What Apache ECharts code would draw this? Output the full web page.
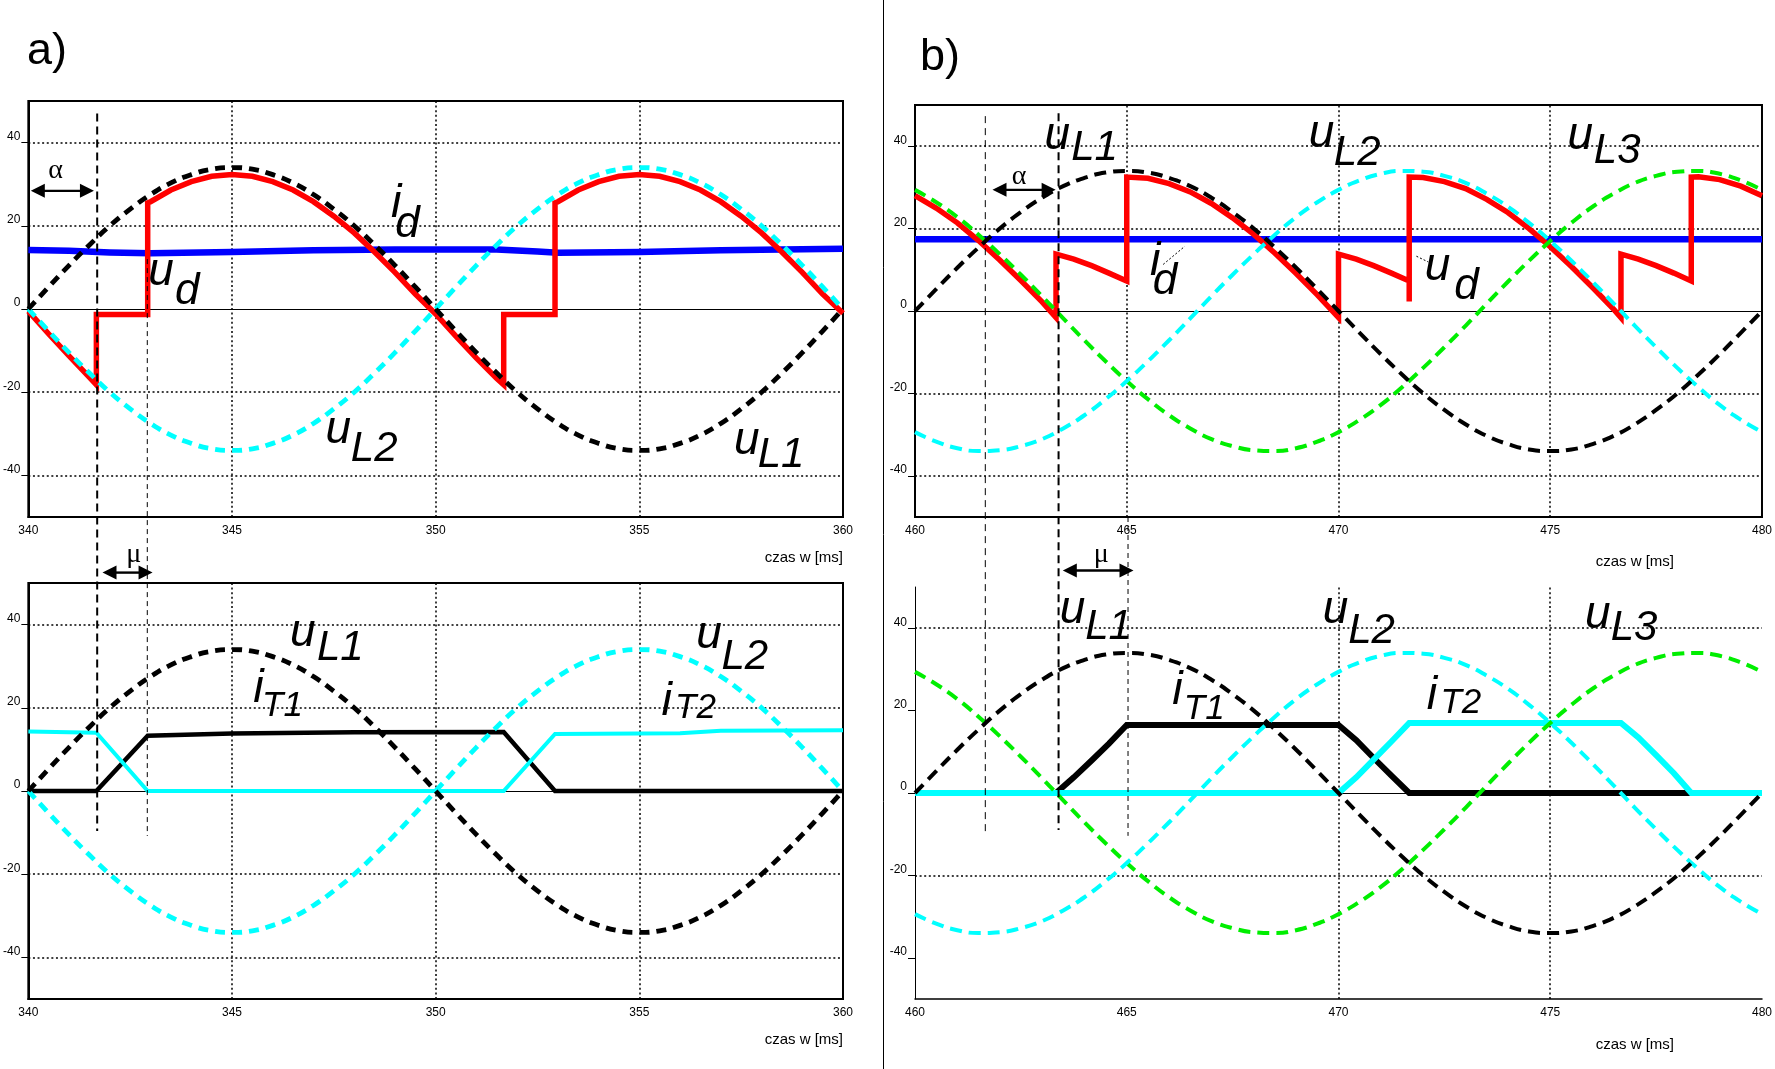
<!DOCTYPE html>
<html><head><meta charset="utf-8">
<script src="https://cdn.jsdelivr.net/npm/echarts@6.0.0/dist/echarts.min.js"></script>
<style>html,body{margin:0;padding:0;background:#fff}#c{width:1775px;height:1069px}</style>
</head><body><div id="c"></div>
<script>
// ---------- data ----------
const tA = [340,340.5,341,341.5,342,342.5,343,343.5,344,344.5,345,345.5,346,346.5,347,347.5,348,348.5,349,349.5,350,350.5,351,351.5,352,352.5,353,353.5,354,354.5,355,355.5,356,356.5,357,357.5,358,358.5,359,359.5,360];
const tB = [460,460.5,461,461.5,462,462.5,463,463.5,464,464.5,465,465.5,466,466.5,467,467.5,468,468.5,469,469.5,470,470.5,471,471.5,472,472.5,473,473.5,474,474.5,475,475.5,476,476.5,477,477.5,478,478.5,479,479.5,480];
const uL1a = [0,5.3,10.5,15.4,20.0,24.0,27.5,30.3,32.3,33.6,34.0,33.6,32.3,30.3,27.5,24.0,20.0,15.4,10.5,5.3,0,-5.3,-10.5,-15.4,-20.0,-24.0,-27.5,-30.3,-32.3,-33.6,-34.0,-33.6,-32.3,-30.3,-27.5,-24.0,-20.0,-15.4,-10.5,-5.3,0];
const uL2a = [0,-5.3,-10.5,-15.4,-20.0,-24.0,-27.5,-30.3,-32.3,-33.6,-34.0,-33.6,-32.3,-30.3,-27.5,-24.0,-20.0,-15.4,-10.5,-5.3,0,5.3,10.5,15.4,20.0,24.0,27.5,30.3,32.3,33.6,34.0,33.6,32.3,30.3,27.5,24.0,20.0,15.4,10.5,5.3,0];
const uL1b = [0,5.3,10.5,15.4,20.0,24.0,27.5,30.3,32.3,33.6,34.0,33.6,32.3,30.3,27.5,24.0,20.0,15.4,10.5,5.3,0,-5.3,-10.5,-15.4,-20.0,-24.0,-27.5,-30.3,-32.3,-33.6,-34.0,-33.6,-32.3,-30.3,-27.5,-24.0,-20.0,-15.4,-10.5,-5.3,0];
const uL2b = [-29.4,-31.7,-33.3,-34.0,-33.8,-32.8,-31.1,-28.5,-25.3,-21.4,-17.0,-12.2,-7.1,-1.8,3.6,8.8,13.8,18.5,22.8,26.4,29.4,31.7,33.3,34.0,33.8,32.8,31.1,28.5,25.3,21.4,17.0,12.2,7.1,1.8,-3.6,-8.8,-13.8,-18.5,-22.8,-26.4,-29.4];
const uL3b = [29.4,26.4,22.8,18.5,13.8,8.8,3.6,-1.8,-7.1,-12.2,-17.0,-21.4,-25.3,-28.5,-31.1,-32.8,-33.8,-34.0,-33.3,-31.7,-29.4,-26.4,-22.8,-18.5,-13.8,-8.8,-3.6,1.8,7.1,12.2,17.0,21.4,25.3,28.5,31.1,32.8,33.8,34.0,33.3,31.7,29.4];

const udA = [[340,-0.5],[340.5,-6.0],[341,-11.3],[341.5,-16.4],[341.67,-18.2],[341.67,-1.3],[342.93,-1.3],
  [342.93,25.5],[343,25.8],[343.5,28.6],[344,30.6],[344.5,31.9],[345,32.3],[345.5,31.9],[346,30.6],[346.5,28.6],[347,25.8],[347.5,22.3],[348,18.3],[348.5,13.7],[349,8.8],[349.5,3.6],[350,-1.2],[350.5,-6.6],[351,-11.8],[351.5,-16.7],[351.67,-18.2],
  [351.67,-1.3],[352.93,-1.3],
  [352.93,25.5],[353,25.8],[353.5,28.6],[354,30.6],[354.5,31.9],[355,32.3],[355.5,31.9],[356,30.6],[356.5,28.6],[357,25.8],[357.5,22.3],[358,18.3],[358.5,13.7],[359,8.8],[359.5,3.6],[360,-1.0]];
const idA = [[340,14.2],[341,14.0],[342,13.6],[343,13.4],[345,13.7],[347,14.1],[349,14.3],[351.5,14.3],[352.5,13.8],[353,13.5],[355,13.7],[357,14.1],[360,14.5]];
const iT1a = [[340,0],[341.67,0],[342.93,13.3],[345,13.8],[348,14.1],[351.67,14.2],[352.93,0],[360,0]];
const iT2a = [[340,14.3],[341.67,14.0],[342.93,0],[351.67,0],[352.93,13.7],[356,13.9],[357,14.5],[360,14.6]];

const udB = [[460,28.0],[460.5,25.0],[461,21.4],[461.5,17.1],[462,12.4],[462.5,7.4],[463,2.2],[463.33,-1.6],
  [463.33,13.8],[463.75,12.6],[464.17,11.0],[464.58,9.2],[465,7.3],
  [465,32.5],[465.5,32.2],[466,30.9],[466.5,28.9],[467,26.1],[467.5,22.6],[468,18.6],[468.5,14.0],[469,9.1],[469.5,3.9],[470,-1.6],
  [470,13.8],[470.42,12.6],[470.83,11.0],[471.25,9.2],[471.67,7.3],[471.67,2.3],
  [471.67,32.5],[472,32.4],[472.5,31.4],[473,29.7],[473.5,27.1],[474,23.9],[474.5,20.0],[475,15.6],[475.5,10.8],[476,5.7],[476.5,0.4],[476.67,-1.6],
  [476.67,13.8],[477.08,12.6],[477.5,11.0],[477.92,9.2],[478.33,7.3],
  [478.33,32.5],[478.5,32.6],[479,31.9],[479.5,30.3],[480,28.0]];
const idB = [[460,17.4],[480,17.4]];
const iT1b = [[460,0],[463.33,0],[463.75,3.8],[464.17,7.9],[464.58,12.0],[465,16.5],[470,16.5],[470.42,12.8],[470.83,8.5],[471.25,4.2],[471.67,0],[478.33,0]];
const iT2b = [[460,0],[470,0],[470.42,3.8],[470.83,8.1],[471.25,12.5],[471.67,17.0],[476.67,17.0],[477.08,13.5],[477.5,9.2],[477.92,4.8],[478.33,0],[480,0]];

const yTicks = [-40,-20,0,20,40];
const xTicksA = [340,345,350,355,360];
const xTicksB = [460,465,470,475,480];
const xTitle = 'czas w [ms]';

// annotations: [grid, t, v, text, size, kind]
const notes = [
 [0,343.26,5.05,'u',46,'i'],[0,343.90,0.48,'d',44,'i'],
 [0,349.03,21.4,'i',47,'i'],[0,349.31,16.6,'d',44,'i'],
 [0,347.61,-32.9,'u',46,'i'],[0,348.49,-37.3,'L2',42,'i'],
 [0,357.64,-35.6,'u',46,'i'],[0,358.48,-38.7,'L1',42,'i'],
 [0,340.67,33.3,'α',28,'g'],
 [1,346.74,34.0,'u',46,'i'],[1,347.66,30.7,'L1',42,'i'],
 [1,345.65,20.6,'i',47,'i'],[1,346.24,17.4,'T1',35,'i'],
 [1,356.71,33.6,'u',46,'i'],[1,357.59,28.7,'L2',42,'i'],
 [1,355.67,17.4,'i',47,'i'],[1,356.38,16.9,'T2',35,'i'],
 [1,342.59,56.7,'μ',28,'g'],
 [2,463.36,38.6,'u',46,'i'],[2,464.24,35.9,'L1',42,'i'],
 [2,469.60,39.1,'u',46,'i'],[2,470.44,34.7,'L2',42,'i'],
 [2,475.71,38.6,'u',46,'i'],[2,476.58,35.2,'L3',42,'i'],
 [2,465.67,7.9,'i',47,'i'],[2,465.90,3.5,'d',44,'i'],
 [2,472.34,6.7,'u',46,'i'],[2,473.02,2.3,'d',44,'i'],
 [2,462.46,32.5,'α',28,'g'],
 [3,463.72,40.4,'u',46,'i'],[3,464.57,36.7,'L1',42,'i'],
 [3,469.93,40.5,'u',46,'i'],[3,470.78,35.6,'L2',42,'i'],
 [3,476.12,39.3,'u',46,'i'],[3,476.98,36.4,'L3',42,'i'],
 [3,466.20,20.9,'i',47,'i'],[3,466.83,17.3,'T1',35,'i'],
 [3,472.21,19.7,'i',47,'i'],[3,472.89,18.8,'T2',35,'i'],
 [3,464.40,57.8,'μ',28,'g']
];
// dashed marker lines spanning two panels: [gridTop, gridBottom, t, vTop, vBottom, width, dash]
const spans = [
 [0,1,341.69,47.0,-9.6,2,[8,5]],
 [0,1,342.92,12,-10.8,1,[5,4]],
 [2,3,461.66,47.3,-9.8,1,[7,5]],
 [2,3,463.39,48.0,-9.0,2,[8,5]],
 [2,3,465.03,-50,-10.4,1,[5,4]]
];
// double arrows: [grid, t1, t2, v]
const arrows = [[0,340.06,341.61,28.4],[1,341.82,343.05,52.5],[2,461.83,463.32,29.4],[3,463.49,465.16,54.0]];
// leader lines: [grid, t1, v1, t2, v2]
const leaders = [[2,465.86,11.3,466.37,15.7],[2,471.84,13.3,472.12,11.9]];

// ---------- chart ----------
const FONT = "'Liberation Sans', Arial, sans-serif";
const chart = echarts.init(document.getElementById('c'));
const pairs = (t, v) => t.map((x, i) => [x, v[i]]);

const gridDefs = [
  {left:26, top:101, width:817, height:416},
  {left:26, top:583, width:817, height:416},
  {left:915, top:105, width:849, height:412},
  {left:915, top:587, width:849, height:412}
];
const grids = gridDefs.map((g, i) => Object.assign({}, g, {
  show: i !== 3, borderColor:'#000', borderWidth:2, backgroundColor:'transparent', containLabel:false
}));
const namePad = [33, 33, 37, 38];
const nameGap = [0, 0, -88, -88];
const xAxes = gridDefs.map((g, i) => ({
  gridIndex:i, type:'value', min: i<2?340:460, max: i<2?360:480, interval:5,
  axisLine:{show:true, onZero:false, lineStyle:{color:'#000', width: i===3?1.5:2}},
  axisTick:{show:false}, splitLine:{show:false},
  axisLabel:{color:'#000', fontSize:12, margin:8, fontFamily:FONT,
    customValues: i<2?xTicksA:xTicksB},
  name: xTitle, nameLocation:'end', nameGap: nameGap[i],
  nameTextStyle:{align:'right', verticalAlign:'top', padding:[namePad[i],0,0,0], fontSize:15, color:'#000', fontFamily:FONT}
}));
const yAxes = gridDefs.map((g, i) => ({
  gridIndex:i, type:'value', min:-50, max:50, interval:10,
  axisLine:{show:true, onZero:false, lineStyle:{color:'#000', width: i===3?1:2}},
  axisTick:{show:true, length:7, customValues:yTicks, lineStyle:{color:'#000', width:1}},
  axisLabel:{customValues:yTicks, formatter: v => (v % 20 === 0 ? String(v) : ''),
    verticalAlign:'bottom', margin:8, fontSize:12, color:'#000', fontFamily:FONT},
  splitLine:{show:false}
}));

const dotted = {color:'#000', width:1.5, type:[2,2.6]};
function gridLines(i) {
  const data = [];
  let ys, xs;
  if (i === 3) { ys = [40,-20]; xs = [470,475]; }
  else { ys = [40,20,-20,-40]; xs = i<2 ? [345,350,355] : [465,470,475]; }
  ys.forEach(y => data.push({yAxis:y, lineStyle:dotted}));
  xs.forEach(x => data.push({xAxis:x, lineStyle:dotted}));
  data.push({yAxis:0, lineStyle:{color:'#000', width:1.2, type:'solid'}});
  return {silent:true, symbol:['none','none'], label:{show:false}, z:1, animation:false, data};
}

function line(name, gi, data, color, width, dash, extra) {
  return Object.assign({
    name, type:'line', xAxisIndex:gi, yAxisIndex:gi, data, showSymbol:false, symbol:'none',
    animation:false, silent:true,
    lineStyle:{color, width, type: dash || 'solid', cap:'butt', join:'miter'}
  }, extra || {});
}

const dashA = [10,7], dashB = [12,7];
const series = [
  // grid 0 (a, top)
  line('id', 0, idA, '#0000ff', 6.5, null, {markLine: gridLines(0)}),
  line('ud', 0, udA, '#ff0000', 5.5),
  line('uL2', 0, pairs(tA, uL2a), '#00ffff', 4.8, dashA, {smooth:0.5}),
  line('uL1', 0, pairs(tA, uL1a), '#000000', 4.8, dashA, {smooth:0.5}),
  // grid 1 (a, bottom)
  line('iT1', 1, iT1a, '#000000', 4.5, null, {markLine: gridLines(1)}),
  line('iT2', 1, iT2a, '#00ffff', 4),
  line('uL2', 1, pairs(tA, uL2a), '#00ffff', 4.8, dashA, {smooth:0.5}),
  line('uL1', 1, pairs(tA, uL1a), '#000000', 4.8, dashA, {smooth:0.5}),
  // grid 2 (b, top)
  line('id', 2, idB, '#0000ff', 6.5, null, {markLine: gridLines(2)}),
  line('ud', 2, udB, '#ff0000', 5.5),
  line('uL3', 2, pairs(tB, uL3b), '#00ee00', 4, dashB, {smooth:0.5}),
  line('uL2', 2, pairs(tB, uL2b), '#00ffff', 4, dashB, {smooth:0.5}),
  line('uL1', 2, pairs(tB, uL1b), '#000000', 4, dashB, {smooth:0.5}),
  // grid 3 (b, bottom)
  line('iT1', 3, iT1b, '#000000', 6, null, {markLine: gridLines(3)}),
  line('iT2', 3, iT2b, '#00ffff', 6),
  line('uL3', 3, pairs(tB, uL3b), '#00ee00', 4, dashB, {smooth:0.5}),
  line('uL2', 3, pairs(tB, uL2b), '#00ffff', 4, dashB, {smooth:0.5}),
  line('uL1', 3, pairs(tB, uL1b), '#000000', 4, dashB, {smooth:0.5})
];

chart.setOption({
  backgroundColor:'#ffffff',
  animation:false,
  grid: grids, xAxis: xAxes, yAxis: yAxes, series
});

// ---------- annotations placed through the axes' scales ----------
const px = (g, t, v) => chart.convertToPixel({gridIndex:g}, [t, v]);
const gfx = [];
gfx.push({type:'line', z:100, shape:{x1:883.5, y1:0, x2:883.5, y2:1069}, style:{stroke:'#000', lineWidth:1}});
gfx.push({type:'text', z:100, x:27, y:52, style:{text:'a)', fontSize:45, fontFamily:FONT, fill:'#000', align:'left', verticalAlign:'middle'}});
gfx.push({type:'text', z:100, x:920, y:58, style:{text:'b)', fontSize:45, fontFamily:FONT, fill:'#000', align:'left', verticalAlign:'middle'}});

spans.forEach(([g1, g2, t, v1, v2, w, dash]) => {
  const a = px(g1, t, v1), b = px(g2, t, v2);
  gfx.push({type:'line', z:90, silent:true, shape:{x1:a[0], y1:a[1], x2:b[0], y2:b[1]},
    style:{stroke:'#000', lineWidth:w, lineDash:dash}});
});
arrows.forEach(([g, t1, t2, v]) => {
  const a = px(g, t1, v), b = px(g, t2, v);
  const L = 14, H = 7;
  gfx.push({type:'line', z:95, shape:{x1:a[0]+L-2, y1:a[1], x2:b[0]-L+2, y2:b[1]}, style:{stroke:'#000', lineWidth:2.4}});
  gfx.push({type:'polygon', z:95, shape:{points:[[a[0],a[1]],[a[0]+L,a[1]-H],[a[0]+L,a[1]+H]]}, style:{fill:'#000'}});
  gfx.push({type:'polygon', z:95, shape:{points:[[b[0],b[1]],[b[0]-L,b[1]-H],[b[0]-L,b[1]+H]]}, style:{fill:'#000'}});
});
leaders.forEach(([g, t1, v1, t2, v2]) => {
  const a = px(g, t1, v1), b = px(g, t2, v2);
  gfx.push({type:'line', z:95, shape:{x1:a[0], y1:a[1], x2:b[0], y2:b[1]}, style:{stroke:'#000', lineWidth:1, lineDash:[2,2]}});
});
notes.forEach(([g, t, v, text, size, kind]) => {
  const p = px(g, t, v);
  if (kind === 'g') {
    gfx.push({type:'text', z:100, x:p[0], y:p[1], style:{text, fontSize:size,
      fontFamily:"'Liberation Serif', 'DejaVu Serif', serif", fill:'#000', align:'center', verticalAlign:'middle'}});
  } else {
    gfx.push({type:'text', z:100, x:p[0], y:p[1] - 0.3465*size, style:{text, fontSize:size, fontStyle:'italic',
      fontFamily:FONT, fill:'#000', align:'center', verticalAlign:'middle'}});
  }
});
chart.setOption({graphic: gfx});
</script></body></html>
